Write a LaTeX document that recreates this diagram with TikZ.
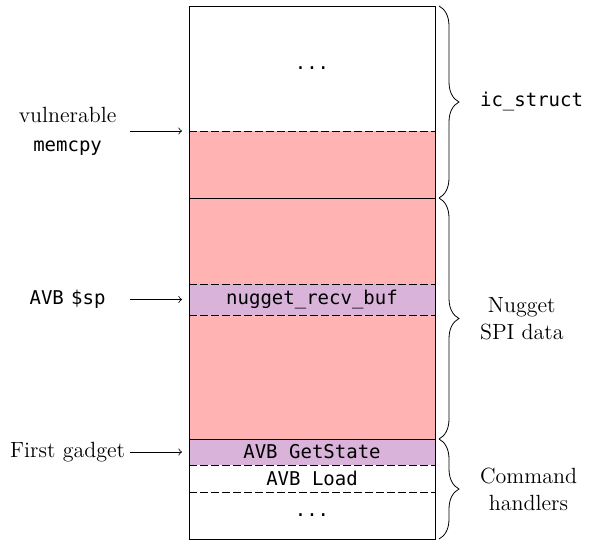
\documentclass[tikz,border=0pt]{standalone}
\usepackage{fontspec}
\setmonofont{DejaVu Sans Mono}[Scale=0.95]
\usetikzlibrary{positioning,decorations.pathreplacing}
\definecolor{smashred}{RGB}{255,179,179}
\definecolor{gadgetviolet}{RGB}{217,179,217}
\newcommand{\memcode}[1]{{\fontsize{10}{12}\selectfont\ttfamily #1}}
\tikzset{
  mem row/.style={
    rectangle, minimum width=123pt, minimum height=#1,
    inner sep=0pt, outer sep=0pt, font=\ttfamily
  },
  mem sep/.style={dash pattern=on 4pt off 1.5pt},
  mem brace/.style={decorate, decoration={brace, amplitude=10pt}},
  mem label/.style={align=center, text width=62pt, inner xsep=0pt, font=\fontsize{11}{14.5}\selectfont},
  brace label/.style={align=center, font=\fontsize{11}{13.5}\selectfont},
  mem arrow/.style={->, shorten >=3.5pt}
}

\begin{document}
\begin{tikzpicture}
    \useasboundingbox (0,0) rectangle (296pt,-270.5pt);
    % memory rows, top to bottom
    \node[mem row=62.5pt, anchor=north west] (struct) at (94.5pt,-3pt) {...};
    \node[mem row=33.5pt, fill=smashred, below=0pt of struct] (icpad) {};
    \node[mem row=43pt, fill=smashred, below=0pt of icpad] (spitop) {};
    \node[mem row=15.5pt, fill=gadgetviolet, below=0pt of spitop] (buf) {nugget\_recv\_buf};
    \node[mem row=62pt, fill=smashred, below=0pt of buf] (spibot) {};
    \node[mem row=13pt, fill=gadgetviolet, below=0pt of spibot] (getstate) {AVB GetState};
    \node[mem row=13.5pt, below=0pt of getstate] (load) {AVB Load};
    \node[mem row=23.5pt, below=0pt of load] (rest) {...};
    \draw (struct.north west) rectangle (rest.south east);
    \foreach \row in {struct,spitop,buf,getstate,load}
      \draw[mem sep] (\row.south west) -- (\row.south east);
    \draw (icpad.south west) -- (icpad.south east);
    \draw (spibot.south west) -- (spibot.south east);
    % pointers on the left
    \node[mem label, left=29.5pt of icpad.north west] (memcpy) {vulnerable\\\memcode{memcpy}};
    \node[mem label, left=29.5pt of buf.west] (sp) {\memcode{AVB \$sp}};
    \node[mem label, left=29.5pt of getstate.west] (gadget) {First gadget};
    \draw[mem arrow] (memcpy) -- (icpad.north west);
    \draw[mem arrow] (sp) -- (buf.west);
    \draw[mem arrow] (gadget) -- (getstate.west);
    % braces on the right
    \draw[mem brace] ([xshift=2pt]struct.north east) -- node[brace label, right=17pt] (structlbl) {\memcode{ic\_struct}} ([xshift=2pt]icpad.south east);
    \draw[mem brace] ([xshift=2pt]spitop.north east) -- node[brace label, right=17pt] (spilbl) {Nugget\\SPI data} ([xshift=2pt]spibot.south east);
    \draw[mem brace] ([xshift=2pt]getstate.north east) -- node[brace label, right=17pt] (cmdlbl) {Command\\handlers} ([xshift=2pt]rest.south east);
  \end{tikzpicture}
\end{document}
